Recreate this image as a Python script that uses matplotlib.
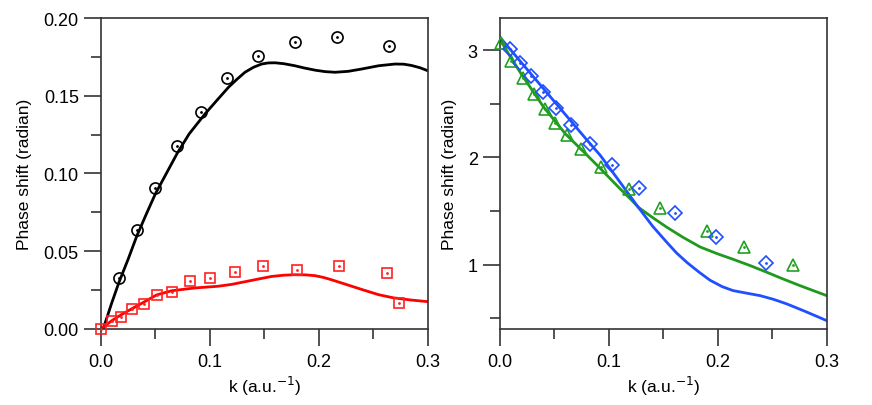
import matplotlib
matplotlib.use("Agg")
import matplotlib.pyplot as plt
from matplotlib.ticker import MultipleLocator, FormatStrFormatter

plt.rcParams['font.family'] = ['Liberation Sans', 'DejaVu Sans']

# left panel: measured points
k_circ = [0.0165, 0.033, 0.050, 0.070, 0.092, 0.116, 0.144, 0.178, 0.217, 0.264]
d_circ = [0.033, 0.0639, 0.0907, 0.118, 0.1398, 0.1616, 0.1758, 0.1848, 0.188, 0.1818]

k_sq = [0.0, 0.0098, 0.0187, 0.0288, 0.0392, 0.0517, 0.0652, 0.0814, 0.1004,
        0.1227, 0.1485, 0.1803, 0.2183, 0.263, 0.274]
d_sq = [0.0, 0.0051, 0.0079, 0.0129, 0.0161, 0.0219, 0.024, 0.0309, 0.033,
        0.0367, 0.0407, 0.0377, 0.0407, 0.0358, 0.0167]

# left panel: calculated curves
k_black = [0.002, 0.01, 0.0165, 0.025, 0.033, 0.042, 0.05, 0.06, 0.07, 0.081, 0.0955,
           0.107, 0.117, 0.125, 0.1322, 0.14, 0.1475, 0.1535, 0.1598, 0.168, 0.178,
           0.187, 0.197, 0.206, 0.2149, 0.227, 0.2394, 0.255, 0.27, 0.278, 0.285,
           0.293, 0.3]
d_black = [0.0, 0.017, 0.030, 0.045, 0.060, 0.0745, 0.087, 0.100, 0.113, 0.1255, 0.1383,
           0.1475, 0.1554, 0.1607, 0.1651, 0.1683, 0.1704, 0.1711, 0.1712, 0.1706, 0.1693,
           0.1678, 0.1664, 0.1655, 0.1651, 0.1657, 0.1672, 0.1693, 0.1704, 0.1703, 0.1695,
           0.1680, 0.1661]

k_red = [0.0, 0.0098, 0.0187, 0.028, 0.0392, 0.051, 0.065, 0.0863, 0.1077, 0.12,
         0.1322, 0.145, 0.1567, 0.168, 0.178, 0.188, 0.1965, 0.204, 0.211, 0.224,
         0.24, 0.2547, 0.268, 0.285, 0.3]
d_red = [0.0, 0.0053, 0.0092, 0.0129, 0.0172, 0.0219, 0.0246, 0.0264, 0.0275, 0.0287,
         0.0304, 0.0322, 0.0338, 0.0346, 0.0349, 0.0348, 0.0343, 0.0332, 0.0318, 0.0289,
         0.0253, 0.0221, 0.0201, 0.0186, 0.0176]

# right panel: measured points
k_tri = [0.0009, 0.0101, 0.0214, 0.0315, 0.0413, 0.0508, 0.0612, 0.0744, 0.0927,
         0.1184, 0.1469, 0.1897, 0.224, 0.2693]
d_tri = [3.066, 2.901, 2.745, 2.590, 2.454, 2.323, 2.205, 2.074, 1.910,
         1.708, 1.528, 1.314, 1.165, 0.999]

k_dia = [0.0092, 0.0184, 0.0281, 0.0398, 0.0511, 0.0652, 0.0826, 0.1028, 0.1279,
         0.1607, 0.198, 0.2442]
d_dia = [3.013, 2.885, 2.758, 2.609, 2.463, 2.298, 2.121, 1.929, 1.711,
         1.485, 1.261, 1.019]

# right panel: calculated curves
k_blue = [0.0, 0.02, 0.04, 0.06, 0.08, 0.092, 0.1, 0.1087, 0.118, 0.127, 0.14, 0.153,
          0.162, 0.1717, 0.1828, 0.1928, 0.204, 0.214, 0.226, 0.2388, 0.251, 0.2633,
          0.28, 0.3]
d_blue = [3.12, 2.88, 2.64, 2.40, 2.16, 2.02, 1.91, 1.79, 1.66, 1.535, 1.36, 1.21,
          1.11, 1.02, 0.93, 0.855, 0.795, 0.758, 0.735, 0.711, 0.677, 0.634,
          0.565, 0.478]

k_green = [0.0, 0.01, 0.02, 0.04, 0.06, 0.08, 0.0918, 0.11, 0.12, 0.127, 0.14, 0.153,
           0.168, 0.1837, 0.2, 0.214, 0.23, 0.245, 0.26, 0.2755, 0.3]
d_green = [3.10, 2.93, 2.77, 2.47, 2.22, 2.02, 1.90, 1.71, 1.61, 1.535, 1.44, 1.35,
           1.255, 1.165, 1.10, 1.05, 0.99, 0.929, 0.866, 0.804, 0.711]

RED = '#ff0000'
BLUE = '#1f4fff'
GREEN = '#1e9a1e'
SPINE = '#333333'

fig = plt.figure(figsize=(8.72, 4.06), dpi=100)
ax1 = fig.add_axes([0.1158, 0.1872, 0.3747, 0.766])
ax2 = fig.add_axes([0.5734, 0.1872, 0.3747, 0.766])


def style(ax):
    for s in ax.spines.values():
        s.set_color(SPINE)
        s.set_linewidth(1.2)
    ax.tick_params(which='major', direction='out', length=12, width=1.2,
                   color=SPINE, labelsize=13, pad=4)
    ax.tick_params(which='minor', direction='out', length=7, width=1.2, color=SPINE)
    ax.tick_params(axis='x', which='major', pad=5)
    ax.tick_params(top=False, right=False)
    ax.set_xlim(0, 0.3)
    ax.xaxis.set_major_locator(MultipleLocator(0.1))
    ax.xaxis.set_minor_locator(MultipleLocator(0.05))
    ax.xaxis.set_major_formatter(FormatStrFormatter('%.1f'))
    ax.set_xlabel('k (a.u.$^{-1}$)', fontsize=12.5, labelpad=3)
    ax.set_ylabel('Phase shift (radian)', fontsize=12.5, labelpad=8)


def points(ax, k, d, marker, color, size):
    ax.plot(k, d, linestyle='none', marker=marker, markersize=size,
            markerfacecolor='none', markeredgecolor=color, markeredgewidth=1.2,
            clip_on=False, zorder=3)
    ax.plot(k, d, linestyle='none', marker='o', markersize=1.0,
            color=color, clip_on=False, zorder=4)


# left
ax1.plot(k_black, d_black, color='black', lw=2.0, zorder=2)
ax1.plot(k_red, d_red, color=RED, lw=2.0, zorder=2)
points(ax1, k_circ, d_circ, 'o', 'black', 8)
points(ax1, k_sq, d_sq, 's', '#ff2020', 7.5)
style(ax1)
ax1.set_ylim(0, 0.2)
ax1.yaxis.set_major_locator(MultipleLocator(0.05))
ax1.yaxis.set_minor_locator(MultipleLocator(0.025))
ax1.yaxis.set_major_formatter(FormatStrFormatter('%.2f'))

# right
ax2.plot(k_green, d_green, color=GREEN, lw=2.0, zorder=2)
ax2.plot(k_blue, d_blue, color=BLUE, lw=2.0, zorder=2)
points(ax2, k_tri, d_tri, '^', '#22a022', 8.5)
points(ax2, k_dia, d_dia, 'D', BLUE, 7.5)
style(ax2)
ax2.set_ylim(0.40, 3.30)
ax2.yaxis.set_major_locator(MultipleLocator(1))
ax2.yaxis.set_minor_locator(MultipleLocator(0.5))
ax2.yaxis.set_major_formatter(FormatStrFormatter('%d'))

fig.savefig('out.png', dpi=100)
